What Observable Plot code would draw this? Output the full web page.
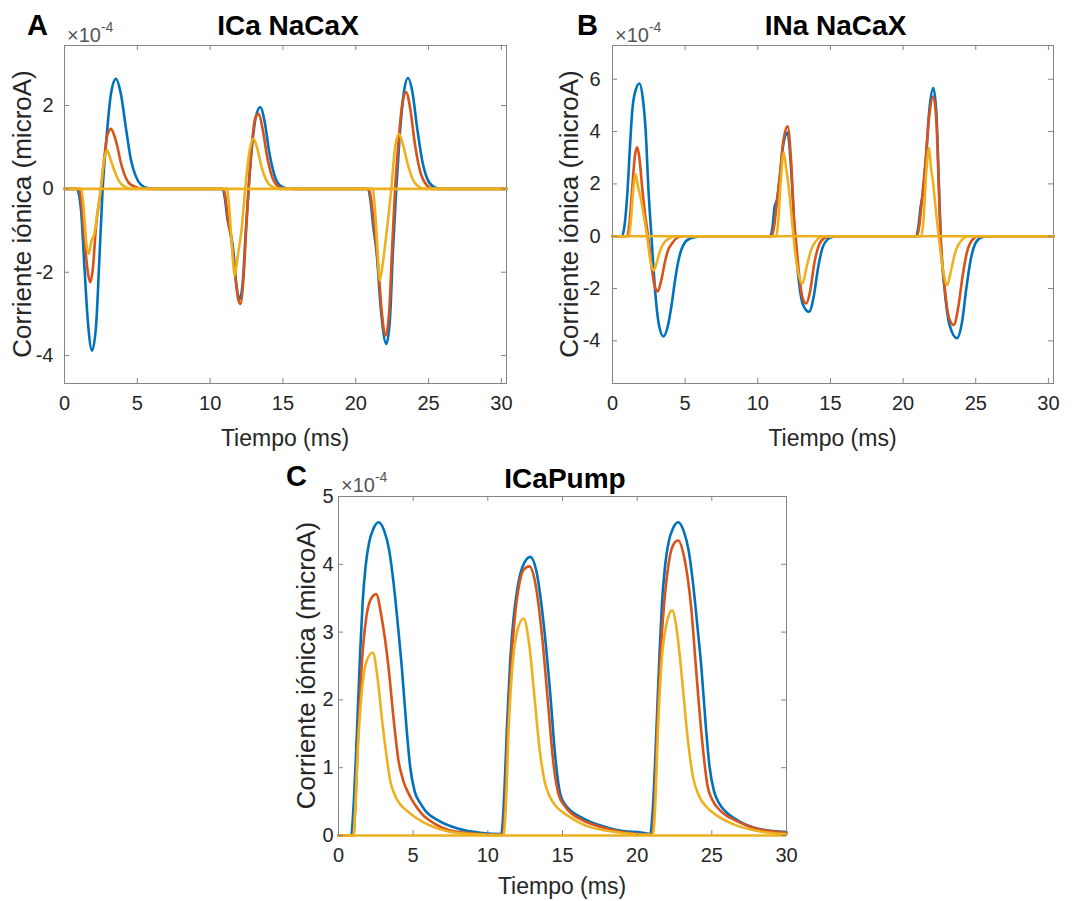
<!DOCTYPE html>
<html>
<head>
<meta charset="utf-8">
<script src="https://cdn.jsdelivr.net/npm/d3@7"></script>
<script src="https://cdn.jsdelivr.net/npm/@observablehq/plot@0.6"></script>
<style>
  html, body { margin: 0; padding: 0; background: #ffffff; }
  #fig { position: relative; width: 1090px; height: 901px; background: #ffffff; overflow: hidden; }
  #fig .panel { position: absolute; }
  #overlay { position: absolute; left: 0; top: 0; pointer-events: none; }
</style>
</head>
<body>
<div id="fig"></div>
<script>
// ---------- DATA (time in ms, current in units of 1e-4 microA) ----------
const xTicks = [0, 5, 10, 15, 20, 25, 30];
const yTicksA = [-4, -2, 0, 2];
const yTicksB = [-4, -2, 0, 2, 4, 6];
const yTicksC = [0, 1, 2, 3, 4, 5];
const seriesNames = ["serie 1", "serie 2", "serie 3"];
const seriesColors = ["#0072BD", "#D95319", "#EDB120"];

// Panel A: ICa NaCaX
const icaBlue = [[0,0],[0.85,0],[1.0,-0.15],[1.14,-0.52],[1.37,-1.88],[1.6,-3.16],[1.89,-3.88],[2.16,-3.32],[2.39,-1.72],[2.62,0],[2.85,1.08],[3.19,2.28],[3.53,2.64],[3.87,2.28],[4.21,1.48],[4.56,0.70],[4.9,0.30],[5.24,0.1],[5.7,0.02],[6.3,0],
  [10.85,0],[11.0,-0.2],[11.2,-0.75],[11.4,-1.05],[11.6,-1.5],[11.8,-2.3],[12.03,-2.64],[12.25,-2.2],[12.45,-1.0],[12.64,0],[12.9,1.1],[13.15,1.75],[13.44,1.96],[13.75,1.6],[14.05,0.9],[14.4,0.35],[14.8,0.08],[15.3,0.01],[15.8,0],
  [20.85,0],[21.0,-0.25],[21.2,-0.9],[21.45,-1.6],[21.7,-2.8],[22.1,-3.72],[22.35,-3.1],[22.55,-1.5],[22.78,0],[23.0,1.2],[23.3,2.3],[23.58,2.66],[23.9,2.3],[24.2,1.5],[24.55,0.7],[24.9,0.25],[25.3,0.06],[25.8,0],[30.35,0]];
const icaRed = [[0,0],[1.0,0],[1.15,-0.3],[1.4,-1.3],[1.6,-2.0],[1.78,-2.24],[1.95,-1.9],[2.16,-0.92],[2.5,0],[2.75,0.8],[2.95,1.3],[3.19,1.44],[3.4,1.3],[3.64,1.0],[3.85,0.65],[4.1,0.36],[4.4,0.15],[4.78,0.06],[5.3,0.01],[5.8,0],
  [10.9,0],[11.05,-0.2],[11.25,-0.8],[11.45,-1.2],[11.7,-2.0],[11.9,-2.6],[12.07,-2.76],[12.3,-2.1],[12.47,-1.0],[12.64,0],[12.9,1.2],[13.1,1.7],[13.33,1.80],[13.6,1.45],[13.9,0.8],[14.2,0.35],[14.6,0.08],[15.1,0],
  [20.9,0],[21.05,-0.25],[21.3,-1.0],[21.55,-1.9],[21.8,-3.0],[22.05,-3.52],[22.3,-2.9],[22.5,-1.4],[22.7,0],[22.95,1.2],[23.2,2.05],[23.46,2.32],[23.75,1.9],[24.05,1.1],[24.4,0.45],[24.8,0.12],[25.3,0],[30.35,0]];
const icaYellow = [[0,0],[1.15,0],[1.3,-0.4],[1.5,-1.3],[1.66,-1.56],[1.85,-1.25],[2.05,-1.08],[2.28,-0.52],[2.5,0],[2.7,0.65],[2.92,0.93],[3.15,0.72],[3.42,0.44],[3.75,0.18],[4.1,0.06],[4.6,0],
  [11.15,0],[11.3,-0.4],[11.5,-1.4],[11.69,-2.08],[11.9,-1.6],[12.15,-1.0],[12.41,0],[12.7,0.9],[12.98,1.2],[13.25,0.95],[13.55,0.5],[13.9,0.18],[14.3,0.04],[14.7,0],
  [21.15,0],[21.3,-0.4],[21.5,-1.5],[21.64,-2.2],[21.85,-1.8],[22.1,-1.1],[22.44,0],[22.7,1.0],[22.96,1.32],[23.25,1.05],[23.6,0.55],[23.95,0.2],[24.35,0.05],[24.8,0],[30.35,0]];

// Panel B: INa NaCaX
const inaBlue = [[0,0],[0.65,0],[0.8,0.3],[1.02,1.62],[1.2,3.4],[1.36,4.8],[1.6,5.6],[1.86,5.84],[2.08,5.3],[2.27,4.16],[2.49,1.62],[2.68,0],[2.95,-2.2],[3.2,-3.4],[3.51,-3.83],[3.8,-3.45],[4.08,-2.58],[4.3,-1.7],[4.54,-0.93],[4.75,-0.5],[4.99,-0.23],[5.3,-0.1],[5.67,-0.04],[6.2,0],
  [10.85,0],[11.0,0.3],[11.15,1.1],[11.32,1.4],[11.5,2.2],[11.75,3.5],[12.05,3.96],[12.3,2.5],[12.55,0],[12.8,-1.6],[13.1,-2.6],[13.52,-2.89],[13.85,-2.3],[14.15,-1.2],[14.45,-0.45],[14.8,-0.12],[15.2,-0.02],[15.7,0],
  [20.9,0],[21.05,0.35],[21.2,1.1],[21.35,1.6],[21.55,2.8],[21.8,4.8],[22.08,5.66],[22.3,4.6],[22.45,2.2],[22.58,0],[22.85,-2.0],[23.2,-3.4],[23.71,-3.9],[24.05,-3.3],[24.35,-2.0],[24.65,-0.9],[24.95,-0.3],[25.3,-0.07],[25.8,0],[30.35,0]];
const inaRed = [[0,0],[1.0,0],[1.15,0.4],[1.35,1.8],[1.55,3.1],[1.7,3.4],[1.85,3.0],[2.04,1.87],[2.25,0.8],[2.45,0],[2.7,-1.2],[2.9,-1.9],[3.11,-2.11],[3.35,-1.7],[3.63,-0.93],[3.85,-0.5],[4.08,-0.29],[4.4,-0.08],[4.8,0],
  [10.95,0],[11.1,0.3],[11.3,1.2],[11.5,2.2],[11.75,3.6],[12.05,4.2],[12.3,2.8],[12.5,0.6],[12.6,0],[12.85,-1.5],[13.1,-2.4],[13.34,-2.57],[13.6,-2.1],[13.9,-1.0],[14.2,-0.35],[14.55,-0.08],[15.0,0],
  [20.95,0],[21.1,0.35],[21.3,1.4],[21.55,2.9],[21.8,4.6],[22.08,5.34],[22.3,4.3],[22.45,2.0],[22.58,0],[22.85,-1.9],[23.15,-3.1],[23.48,-3.39],[23.8,-2.7],[24.1,-1.5],[24.4,-0.6],[24.75,-0.15],[25.2,0],[30.35,0]];
const inaYellow = [[0,0],[1.1,0],[1.25,0.5],[1.45,1.9],[1.59,2.38],[1.75,1.9],[1.93,1.49],[2.15,0.8],[2.38,0],[2.6,-0.9],[2.83,-1.31],[3.05,-1.0],[3.29,-0.54],[3.55,-0.25],[3.85,-0.1],[4.3,0],
  [11.25,0],[11.4,0.5],[11.6,2.3],[11.78,3.2],[11.95,2.6],[12.1,2.0],[12.3,0.9],[12.45,0],[12.75,-1.3],[13.07,-1.81],[13.35,-1.2],[13.65,-0.55],[14.0,-0.18],[14.5,0],
  [21.25,0],[21.4,0.6],[21.6,2.5],[21.78,3.38],[21.92,2.6],[22.05,2.1],[22.25,1.0],[22.45,0],[22.75,-1.3],[23.03,-1.87],[23.3,-1.3],[23.6,-0.6],[23.95,-0.2],[24.5,0],[30.35,0]];

// Panel C: ICaPump
const pumpBlue = [[0,0],[0.85,0],[1.0,0.4],[1.23,1.5],[1.45,2.7],[1.62,3.45],[1.82,3.98],[2.05,4.32],[2.35,4.53],[2.68,4.62],[3.05,4.5],[3.4,4.2],[3.7,3.7],[4.0,3.05],[4.24,2.48],[4.55,1.6],[4.8,1.01],[5.1,0.65],[5.5,0.47],[5.8,0.37],[6.7,0.22],[8.04,0.1],[9.5,0.04],[10.9,0.02],
  [11.1,0.6],[11.3,1.7],[11.5,2.58],[11.72,3.2],[11.95,3.6],[12.3,3.95],[12.84,4.11],[13.25,3.9],[13.7,3.2],[14.18,2.09],[14.5,1.2],[14.85,0.61],[15.2,0.45],[16.42,0.25],[17.5,0.15],[18.65,0.08],[20.66,0.03],[20.88,0.02],
  [21.05,0.4],[21.28,1.5],[21.5,2.7],[21.67,3.45],[21.87,3.98],[22.1,4.32],[22.4,4.53],[22.75,4.62],[23.1,4.5],[23.45,4.2],[23.75,3.7],[24.05,3.05],[24.3,2.48],[24.6,1.6],[24.85,1.01],[25.15,0.65],[25.5,0.47],[25.85,0.37],[26.75,0.22],[28.1,0.1],[30,0.05]];
const pumpRed = [[0,0],[1.0,0],[1.1,0.3],[1.3,1.4],[1.55,2.5],[1.85,3.2],[2.15,3.48],[2.52,3.56],[2.9,3.2],[3.35,2.48],[3.7,1.7],[4.02,1.1],[4.35,0.8],[4.69,0.62],[5.1,0.46],[5.58,0.32],[6.4,0.18],[7.37,0.08],[9.0,0.03],[11.0,0.01],
  [11.15,0.4],[11.35,1.6],[11.55,2.5],[11.8,3.2],[12.1,3.7],[12.4,3.92],[12.78,3.97],[13.2,3.7],[13.65,2.9],[14.05,1.9],[14.4,1.05],[14.75,0.6],[15.2,0.42],[16.3,0.23],[17.5,0.13],[18.6,0.07],[21.0,0.01],
  [21.15,0.4],[21.35,1.6],[21.55,2.6],[21.8,3.4],[22.1,4.0],[22.4,4.28],[22.74,4.35],[23.15,4.1],[23.6,3.4],[24.0,2.3],[24.35,1.4],[24.7,0.75],[25.1,0.5],[25.6,0.36],[26.6,0.22],[28.0,0.1],[30,0.04]];
const pumpYellow = [[0,0],[1.0,0],[1.1,0.3],[1.3,1.3],[1.55,2.1],[1.85,2.55],[2.3,2.70],[2.6,2.35],[2.9,1.74],[3.2,1.2],[3.46,0.81],[3.8,0.58],[4.13,0.46],[4.6,0.36],[5.13,0.27],[6.2,0.14],[7.37,0.06],[9.0,0.02],[11.05,0.005],
  [11.2,0.4],[11.4,1.6],[11.65,2.5],[11.95,3.0],[12.4,3.2],[12.75,2.85],[13.1,2.1],[13.45,1.3],[13.8,0.8],[14.2,0.55],[14.7,0.4],[15.3,0.3],[16.5,0.15],[18.0,0.07],[21.05,0.01],
  [21.2,0.4],[21.4,1.6],[21.65,2.6],[21.95,3.1],[22.34,3.32],[22.7,2.95],[23.05,2.2],[23.4,1.4],[23.75,0.85],[24.15,0.58],[24.65,0.42],[25.3,0.3],[26.5,0.16],[28.0,0.07],[30,0.02]];

// ---------- LAYOUT ----------
const FONT = "'Liberation Sans', Arial, Helvetica, sans-serif";
const AXIS_GRAY = "#858585";
const TEXT_DARK = "#262626";

const panels = [
  {key: "A", title: "ICa NaCaX", letterX: 27, letterY: 35, titleY: 35, expY: 42,
   fx: 64, fy: 45, fw: 442, fh: 338, xDomain: [0, 30.35], yDomain: [-4.67, 3.44], yTicks: yTicksA, yPad: 11,
   data: [icaBlue, icaRed, icaYellow], ylabX: 31, xlabY: 446},
  {key: "B", title: "INa NaCaX", letterX: 577, letterY: 35, titleY: 35, expY: 42,
   fx: 612, fy: 45, fw: 441, fh: 338, xDomain: [0, 30.35], yDomain: [-5.63, 7.29], yTicks: yTicksB, yPad: 12,
   data: [inaBlue, inaRed, inaYellow], ylabX: 578, xlabY: 446},
  {key: "C", title: "ICaPump", letterX: 286, letterY: 486, titleY: 488, expY: 492,
   fx: 338, fy: 496, fw: 448, fh: 339, xDomain: [0, 30], yDomain: [0, 5], yTicks: yTicksC, yPad: 5,
   data: [pumpBlue, pumpRed, pumpYellow], ylabX: 315, xlabY: 894}
];

const fig = document.getElementById("fig");
const mL = 60, mT = 10, mR = 12, mB = 42;

for (const p of panels) {
  const lines = p.data.map((arr, i) => Plot.line(arr, {
    x: d => d[0], y: d => d[1], stroke: seriesColors[i], strokeWidth: 2.6,
    curve: "monotone-x", title: () => seriesNames[i]
  }));
  const chart = Plot.plot({
    width: p.fw + mL + mR,
    height: p.fh + mT + mB,
    marginLeft: mL, marginTop: mT, marginRight: mR, marginBottom: mB,
    style: {fontFamily: FONT, fontSize: "20px", color: TEXT_DARK, background: "transparent", overflow: "visible"},
    x: {domain: p.xDomain},
    y: {domain: p.yDomain},
    marks: [
      Plot.frame({stroke: AXIS_GRAY, strokeWidth: 1}),
      ...lines,
      Plot.ruleY([0], {stroke: seriesColors[2], strokeWidth: 2.6}),
      Plot.tickX(xTicks, {x: d => d, insetTop: p.fh - 5, stroke: AXIS_GRAY}),
      Plot.tickX(xTicks, {x: d => d, insetBottom: p.fh - 5, stroke: AXIS_GRAY}),
      Plot.tickY(p.yTicks, {y: d => d, insetRight: p.fw - 5, stroke: AXIS_GRAY}),
      Plot.tickY(p.yTicks, {y: d => d, insetLeft: p.fw - 5, stroke: AXIS_GRAY}),
      Plot.axisX(xTicks, {tickSize: 0, tickPadding: 12, tickFormat: d => String(d), label: null, fontSize: 20}),
      Plot.axisY(p.yTicks, {tickSize: 0, tickPadding: p.yPad, tickFormat: d => String(d), label: null, fontSize: 20})
    ]
  });
  const wrap = document.createElement("div");
  wrap.className = "panel";
  wrap.style.left = (p.fx - mL) + "px";
  wrap.style.top = (p.fy - mT) + "px";
  wrap.appendChild(chart);
  fig.appendChild(wrap);
}

// ---------- TEXT OVERLAY ----------
const svgNS = "http://www.w3.org/2000/svg";
const overlay = document.createElementNS(svgNS, "svg");
overlay.setAttribute("id", "overlay");
overlay.setAttribute("width", 1090);
overlay.setAttribute("height", 901);
overlay.setAttribute("font-family", FONT);
fig.appendChild(overlay);

function addText(str, attrs) {
  const t = document.createElementNS(svgNS, "text");
  for (const [k, v] of Object.entries(attrs)) t.setAttribute(k, v);
  t.textContent = str;
  overlay.appendChild(t);
  return t;
}

for (const p of panels) {
  const cx = p.fx + p.fw / 2;
  addText(p.key, {x: p.letterX, y: p.letterY, "font-size": 29, "font-weight": "bold", fill: "#000"});
  addText(p.title, {x: cx + 3, y: p.titleY, "font-size": 28, "font-weight": "bold", fill: "#000", "text-anchor": "middle"});
  // exponent label ×10^-4
  const e = document.createElementNS(svgNS, "text");
  e.setAttribute("x", p.fx + 3);
  e.setAttribute("y", p.expY);
  e.setAttribute("font-size", 20);
  e.setAttribute("fill", "#555555");
  const t1 = document.createElementNS(svgNS, "tspan");
  t1.textContent = "\u00d710";
  const t2 = document.createElementNS(svgNS, "tspan");
  t2.setAttribute("dy", -10);
  t2.setAttribute("font-size", 14);
  t2.textContent = "-4";
  e.appendChild(t1); e.appendChild(t2);
  overlay.appendChild(e);
  // axis labels
  addText("Tiempo (ms)", {x: cx, y: p.xlabY, "font-size": 23, fill: TEXT_DARK, "text-anchor": "middle"});
  addText("Corriente i\u00f3nica (microA)", {x: 0, y: 0, "font-size": 26, fill: TEXT_DARK, "text-anchor": "middle",
    transform: `translate(${p.ylabX},${p.fy + p.fh / 2}) rotate(-90)`});
}
</script>
</body>
</html>
